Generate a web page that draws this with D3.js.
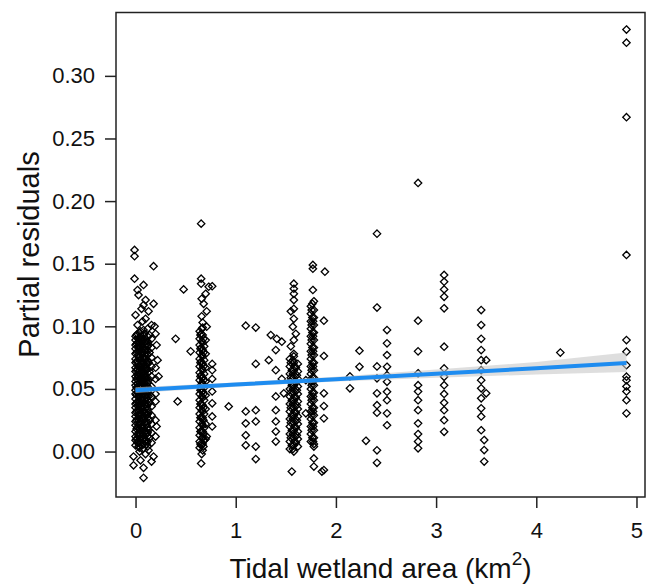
<!DOCTYPE html>
<html>
<head>
<meta charset="utf-8">
<script src="https://cdn.jsdelivr.net/npm/d3@7/dist/d3.min.js"></script>
<style>
body { margin: 0; background: #fff; }
svg { display: block; }
</style>
</head>
<body>
<div id="chart"></div>
<script>
// tick labels
var xTicks = [0, 1, 2, 3, 4, 5];
var yTicks = [0, 0.05, 0.10, 0.15, 0.20, 0.25, 0.30];

// dense columns: [x, [y values]]
var denseCols = [
  [0.00, [0.005,0.009,0.012,0.016,0.021,0.024,0.028,0.031,0.035,0.038,0.042,0.046,0.049,0.053,0.056,0.060,0.064,0.067,0.071,0.074,0.078,0.082,0.085,0.089,0.092]],
  [0.01, [0.010,0.018,0.025,0.032,0.039,0.045,0.051,0.058,0.065,0.072,0.079,0.086,0.093]],
  [0.02, [0.007,0.014,0.019,0.026,0.033,0.040,0.047,0.054,0.061,0.066,0.072,0.080,0.087,0.094]],
  [0.03, [0.004,0.012,0.021,0.029,0.037,0.044,0.052,0.060,0.068,0.077,0.084,0.090]],
  [0.04, [0.003,0.007,0.011,0.014,0.018,0.022,0.026,0.029,0.033,0.037,0.040,0.044,0.047,0.051,0.055,0.058,0.062,0.065,0.069,0.073,0.076,0.080,0.083,0.087,0.091,0.095]],
  [0.05, [0.009,0.017,0.024,0.031,0.038,0.046,0.053,0.060,0.067,0.074,0.081,0.089,0.096]],
  [0.06, [0.005,0.012,0.020,0.027,0.035,0.042,0.049,0.057,0.063,0.070,0.078,0.085,0.092]],
  [0.07, [0.002,0.010,0.018,0.026,0.034,0.041,0.048,0.056,0.064,0.072,0.080,0.088]],
  [0.08, [0.006,0.010,0.013,0.017,0.020,0.025,0.028,0.032,0.036,0.039,0.043,0.046,0.050,0.054,0.057,0.061,0.064,0.068,0.071,0.075,0.079,0.082,0.086,0.090,0.093,0.097]],
  [0.09, [0.008,0.015,0.023,0.030,0.037,0.044,0.051,0.058,0.065,0.073,0.080,0.087,0.094]],
  [0.10, [0.009,0.016,0.024,0.031,0.038,0.045,0.052,0.059,0.067,0.074,0.081,0.088]],
  [0.11, [0.006,0.014,0.021,0.029,0.036,0.043,0.050,0.057,0.065,0.071,0.079,0.086]],
  [0.12, [0.004,0.008,0.012,0.015,0.019,0.023,0.027,0.030,0.034,0.038,0.041,0.045,0.048,0.052,0.055,0.059,0.063,0.066,0.070,0.073,0.077,0.081,0.084,0.088,0.092]],
  [0.13, [0.017,0.031,0.044,0.057,0.071,0.085]],
  [0.14, [0.011,0.025,0.039,0.050,0.064,0.079,0.093]],
  [0.16, [0.007,0.015,0.022,0.029,0.036,0.044,0.052,0.060,0.068,0.075,0.083,0.090]],
  [0.20, [0.012,0.025,0.046,0.058,0.067,0.094]],
  [0.64, [0.003,0.008,0.013,0.019,0.024,0.030,0.035,0.041,0.046,0.052,0.057,0.063,0.068,0.074,0.079,0.085,0.090,0.096]],
  [0.648, [0.006,0.016,0.027,0.038,0.049,0.060,0.071,0.082,0.093]],
  [0.655, [0.005,0.016,0.027,0.038,0.050,0.061,0.072,0.083,0.094]],
  [0.663, [0.011,0.022,0.033,0.044,0.055,0.066,0.077,0.088,0.098]],
  [0.67, [0.001,0.006,0.011,0.016,0.021,0.027,0.032,0.037,0.043,0.048,0.054,0.059,0.065,0.070,0.076,0.081,0.087,0.093,0.099]],
  [0.678, [0.004,0.014,0.025,0.035,0.046,0.057,0.068,0.079,0.090]],
  [0.685, [0.009,0.019,0.030,0.041,0.051,0.062,0.073,0.084]],
  [0.70, [0.010,0.022,0.034,0.045,0.056,0.067,0.078,0.089]],
  [1.54, [0.002,0.008,0.014,0.020,0.026,0.032,0.038,0.044,0.050,0.056,0.062,0.068,0.074]],
  [1.55, [0.011,0.023,0.035,0.047,0.059,0.071]],
  [1.56, [0.005,0.017,0.029,0.041,0.053,0.065]],
  [1.57, [0.002,0.014,0.026,0.038,0.050,0.062,0.073]],
  [1.58, [0.000,0.005,0.011,0.017,0.023,0.029,0.035,0.041,0.047,0.053,0.059,0.065,0.071,0.076]],
  [1.59, [0.008,0.020,0.032,0.044,0.056,0.068]],
  [1.60, [0.007,0.019,0.031,0.043,0.055,0.067]],
  [1.61, [0.013,0.025,0.037,0.049,0.061]],
  [1.62, [0.004,0.010,0.016,0.022,0.028,0.034,0.040,0.046,0.052,0.058,0.064,0.070]],
  [1.75, [0.008,0.014,0.020,0.026,0.032,0.038,0.044,0.050,0.056,0.062,0.068,0.074,0.080,0.086,0.092,0.098,0.104,0.110,0.116]],
  [1.758, [0.017,0.029,0.041,0.053,0.065,0.077,0.089,0.101,0.113]],
  [1.765, [0.011,0.023,0.035,0.047,0.059,0.071,0.083,0.095,0.107,0.118]],
  [1.772, [0.008,0.020,0.032,0.044,0.056,0.068,0.080,0.092,0.104]],
  [1.78, [0.006,0.011,0.017,0.023,0.029,0.035,0.041,0.047,0.053,0.059,0.065,0.071,0.077,0.083,0.089,0.095,0.101,0.107,0.113,0.120]]
];

// sparse columns further right
var sparseCols = [
  [2.51, [0.097,0.0864,0.077,0.0677,0.061,0.0557,0.0478,0.041,0.0305,0.021]],
  [2.82, [0.2145,0.1045,0.080,0.0625,0.053,0.048,0.041,0.033,0.0225,0.014,0.008,0.0026]],
  [3.08, [0.141,0.1356,0.1295,0.1236,0.1144,0.0837,0.0664,0.0597,0.053,0.046,0.039,0.033,0.025,0.0158]],
  [3.45, [0.113,0.101,0.090,0.081,0.073,0.065,0.057,0.0505,0.0425,0.0345,0.028,0.017]],
  [4.90, [0.337,0.3265,0.267,0.157,0.089,0.0797,0.069,0.0598,0.057,0.052,0.048,0.041,0.0305]]
];

// single points [x, y]
var loosePoints = [
  [-0.01,0.161],[-0.01,0.156],[0.18,0.148],[-0.01,0.138],[0.02,0.129],[0.08,0.133],[0.03,0.125],
  [0.10,0.121],[0.08,0.117],[0.18,0.118],[0.06,0.114],[0.13,0.112],[0.00,0.109],[0.10,0.106],
  [0.07,0.104],[0.02,0.101],[0.16,0.101],[0.19,0.100],[0.12,0.098],[0.21,0.085],[0.22,0.073],
  [0.23,0.060],[0.20,0.040],[0.21,0.020],[-0.02,-0.004],[0.10,-0.002],[0.18,-0.004],[-0.02,-0.011],
  [0.08,-0.013],[0.08,-0.021],[0.04,0.000],[0.13,0.001],[0.16,-0.008],[0.05,-0.007],
  [0.40,0.090],[0.42,0.040],[0.48,0.1295],[0.55,0.080],
  [0.655,0.182],[0.655,0.138],[0.655,0.134],[0.765,0.132],[0.73,0.1316],[0.70,0.126],[0.66,0.122],
  [0.68,0.118],[0.71,0.112],[0.66,0.108],[0.67,0.103],[0.71,0.0997],[0.765,0.070],[0.765,0.065],
  [0.765,0.058],[0.765,0.048],[0.765,0.0385],[0.765,0.028],[0.765,0.020],[0.71,0.012],
  [0.655,-0.0095],[0.66,-0.002],[0.93,0.036],
  [1.10,0.1005],[1.20,0.099],[1.20,0.070],[1.35,0.093],[1.41,0.090],[1.46,0.0877],[1.33,0.073],
  [1.40,0.081],[1.40,0.065],[1.46,0.058],[1.48,0.0465],[1.40,0.044],[1.10,0.032],[1.20,0.033],
  [1.10,0.0225],[1.20,0.024],[1.10,0.013],[1.20,0.004],[1.10,0.005],[1.20,-0.006],[1.40,0.033],
  [1.40,0.024],[1.40,0.016],[1.40,0.008],
  [1.58,0.134],[1.58,0.130],[1.58,0.126],[1.58,0.121],[1.58,0.114],[1.55,0.112],[1.58,0.106],
  [1.57,0.0997],[1.60,0.094],[1.58,0.089],[1.55,0.084],[1.58,0.078],[1.56,-0.016],
  [1.77,0.149],[1.77,0.146],[1.77,0.129],[1.89,0.1436],[1.88,0.1045],[1.88,0.0763],[1.88,0.0465],
  [1.88,0.0363],[1.88,0.0265],[1.70,0.057],[1.70,0.0305],[1.78,0.004],[1.78,-0.0055],[1.78,-0.012],
  [1.88,-0.0148],[1.86,-0.016],
  [2.14,0.060],[2.14,0.0505],[2.235,0.0805],[2.235,0.0677],[2.30,0.0086],[2.41,0.174],[2.41,0.115],
  [2.41,0.068],[2.41,0.0585],[2.41,0.0465],[2.41,0.037],[2.41,0.031],[2.41,0.001],[2.41,-0.009],
  [3.48,0.0092],[3.48,0.0012],[3.48,-0.008],[3.50,0.073],[3.50,0.0465],[4.24,0.079]
];

// fitted line and confidence band
var fitX  = [0, 1, 2, 3, 4, 4.9];
var fitY  = [0.049, 0.0535, 0.0578, 0.0622, 0.0665, 0.0707];
var fitLo = [0.0467, 0.0518, 0.0560, 0.0590, 0.0615, 0.0635];
var fitHi = [0.0513, 0.0552, 0.0598, 0.0655, 0.0715, 0.0790];

var w = 651, h = 586;
var font = "'Liberation Sans', Arial, sans-serif";

var svg = d3.select("#chart").append("svg")
  .attr("width", w)
  .attr("height", h)
  .style("background", "#fff");

var x = d3.scaleLinear().domain([-0.195, 5.085]).range([116, 645]);
var y = d3.scaleLinear().domain([-0.0363, 0.3506]).range([497, 12.5]);

// gather all points
var points = [];
denseCols.concat(sparseCols).forEach(function(c) {
  c[1].forEach(function(v) { points.push([c[0], v]); });
});
loosePoints.forEach(function(p) { points.push(p); });

var s = 3.7;
var diamond = "M0," + (-s) + "L" + s + ",0L0," + s + "L" + (-s) + ",0Z";

svg.append("g").selectAll("path")
  .data(points)
  .enter()
  .append("path")
  .attr("d", diamond)
  .attr("transform", function(d) { return "translate(" + x(d[0]) + "," + y(d[1]) + ")"; })
  .attr("fill", "none")
  .attr("stroke", "#000")
  .attr("stroke-width", 1.3);

// band
var band = fitX.map(function(v, i) { return {x: v, lo: fitLo[i], hi: fitHi[i], y: fitY[i]}; });
svg.append("path")
  .datum(band)
  .attr("d", d3.area()
    .x(function(d) { return x(d.x); })
    .y0(function(d) { return y(d.lo); })
    .y1(function(d) { return y(d.hi); }))
  .attr("fill", "#c8c8c8")
  .attr("fill-opacity", 0.6);

svg.append("path")
  .datum(band)
  .attr("d", d3.line()
    .x(function(d) { return x(d.x); })
    .y(function(d) { return y(d.y); }))
  .attr("fill", "none")
  .attr("stroke", "#1e8cf0")
  .attr("stroke-width", 4);

// box
svg.append("rect")
  .attr("x", 116).attr("y", 12.5)
  .attr("width", 529).attr("height", 484.5)
  .attr("fill", "none")
  .attr("stroke", "#222")
  .attr("stroke-width", 1.5);

// axes
var gx = svg.append("g")
  .attr("transform", "translate(0,497)")
  .call(d3.axisBottom(x).tickValues(xTicks).tickSize(11).tickPadding(14).tickFormat(d3.format("d")));
var gy = svg.append("g")
  .attr("transform", "translate(116,0)")
  .call(d3.axisLeft(y).tickValues(yTicks).tickSize(11).tickPadding(10).tickFormat(d3.format(".2f")));

[gx, gy].forEach(function(g) {
  g.select(".domain").remove();
  g.selectAll("line").attr("stroke", "#222").attr("stroke-width", 1.5);
  g.selectAll("text")
    .attr("fill", "#111")
    .style("font-family", font)
    .style("font-size", "22px");
});

// titles
var xt = svg.append("text")
  .attr("x", 380.5)
  .attr("y", 578)
  .attr("text-anchor", "middle")
  .attr("fill", "#111")
  .style("font-family", font)
  .style("font-size", "28px");
xt.append("tspan").text("Tidal wetland area (km");
xt.append("tspan").attr("dy", -13).style("font-size", "19px").text("2");
xt.append("tspan").attr("dy", 13).text(")");

svg.append("text")
  .attr("transform", "translate(39,254.5) rotate(-90)")
  .attr("text-anchor", "middle")
  .attr("fill", "#111")
  .style("font-family", font)
  .style("font-size", "29px")
  .text("Partial residuals");
</script>
</body>
</html>
